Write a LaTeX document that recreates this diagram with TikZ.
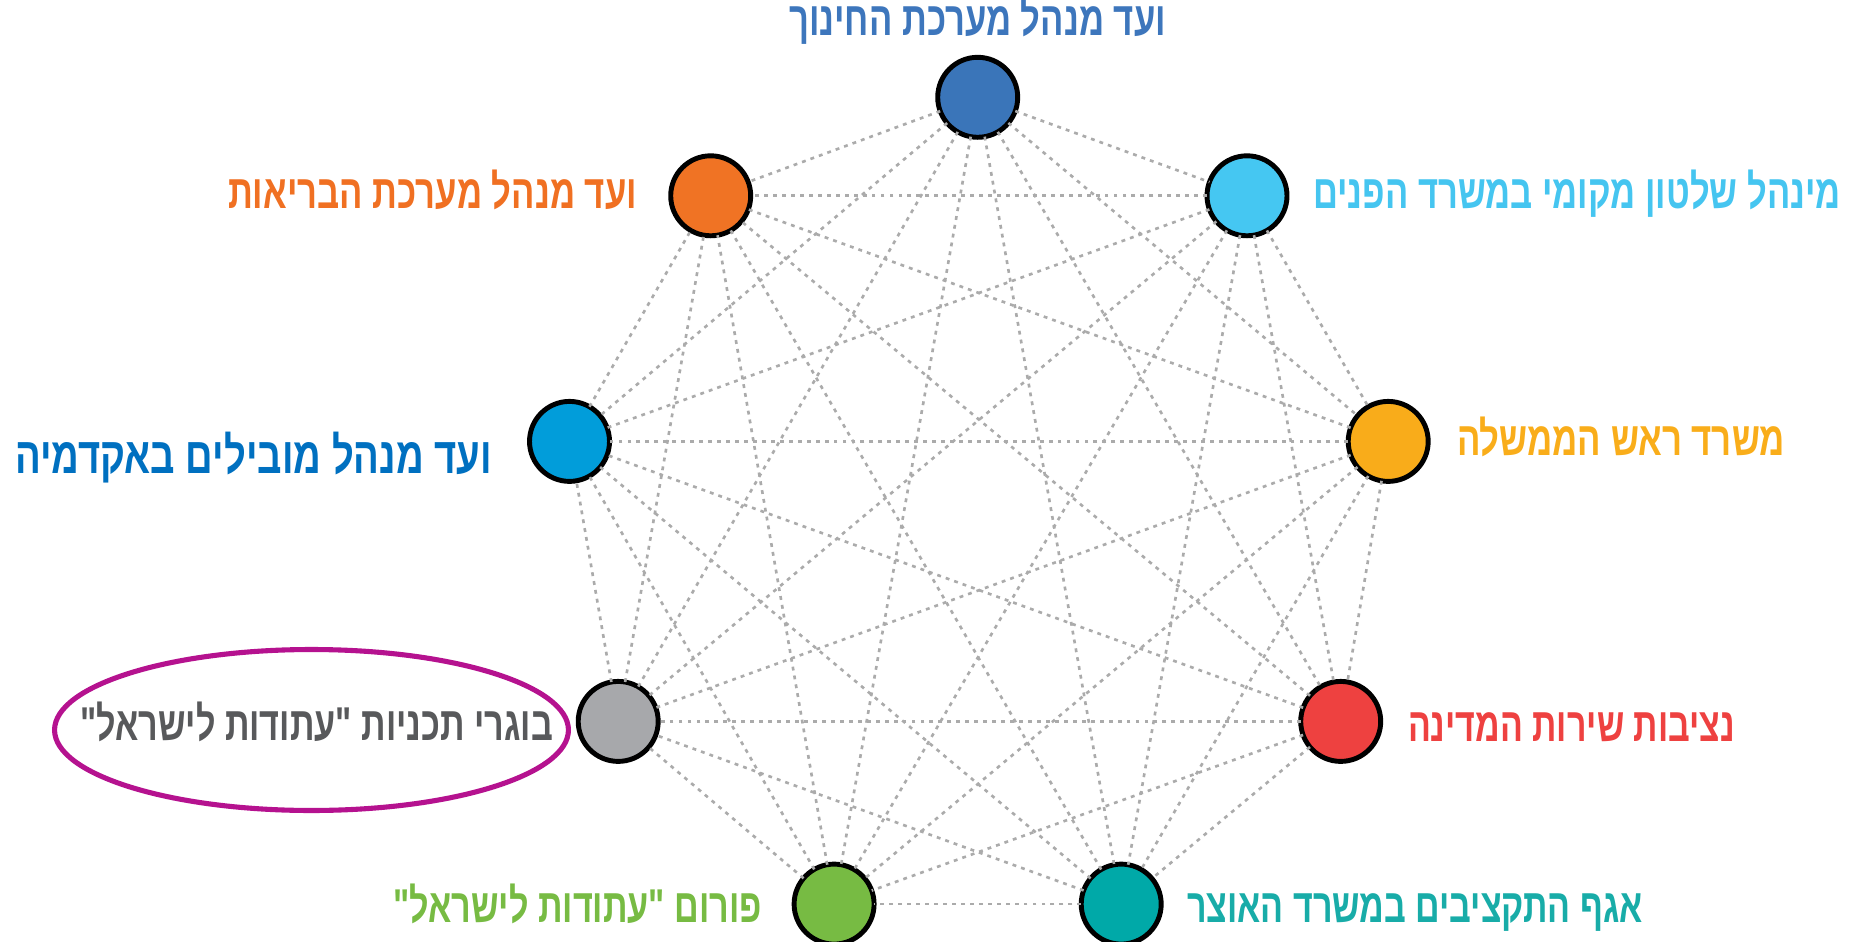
\documentclass[tikz,border=0pt]{standalone}
\usepackage{fontspec}
\TeXXeTstate=1
\newfontfamily\hebfont[Script=Hebrew]{Liberation Sans}
\usetikzlibrary{shapes.geometric}
\definecolor{cedu}{HTML}{3A75B9}
\definecolor{tedu}{HTML}{3D76BC}
\definecolor{chealth}{HTML}{F07324}
\definecolor{thealth}{HTML}{F07022}
\definecolor{cinterior}{HTML}{45C7F2}
\definecolor{tinterior}{HTML}{45C5F0}
\definecolor{cacad}{HTML}{019DDA}
\definecolor{tacad}{HTML}{0070C0}
\definecolor{cpm}{HTML}{F9AC1A}
\definecolor{tpm}{HTML}{F9AD1A}
\definecolor{cgrads}{HTML}{A7A8AB}
\definecolor{tgrads}{HTML}{58595B}
\definecolor{ccivil}{HTML}{EE4140}
\definecolor{tcivil}{HTML}{EE4140}
\definecolor{cforum}{HTML}{77BB43}
\definecolor{tforum}{HTML}{77BB43}
\definecolor{ctreas}{HTML}{00A9A8}
\definecolor{ttreas}{HTML}{18ACA8}
\definecolor{cmag}{HTML}{B5128F}
\definecolor{cedge}{HTML}{ABABAB}
\newsavebox\labbox
\newdimen\labw
\newcommand\fitlab[3]{%
  \sbox\labbox{#2#3}%
  \labw=\wd\labbox
  \pgfmathsetmacro\labsx{#1*0.569055/\labw}%
  \scalebox{\labsx}[1]{\usebox\labbox}}
\newcommand\labbf{\hebfont\bfseries\fontsize{27}{27}\selectfont}
\newcommand\labbig{\hebfont\bfseries\fontsize{29}{29}\selectfont}
\newcommand\labrg{\hebfont\bfseries\fontsize{27}{27}\selectfont}
\begin{document}
\begin{tikzpicture}[x=0.02cm,y=-0.02cm,
  dot/.style={circle,draw=black,line width=2.8pt,minimum size=1.6cm,inner sep=0pt,outer sep=0pt},
  lab/.style={inner sep=0pt,outer sep=0pt},
  edge/.style={draw=cedge,line width=1.5pt,dash pattern=on 2.2pt off 2.9pt}]
\useasboundingbox (0,0) rectangle (1851,942);
% nodes
\node[dot,fill=cedu] (edu) at (977.7,97.3) {};
\node[dot,fill=chealth] (health) at (710.7,195.8) {};
\node[dot,fill=cinterior] (interior) at (1247,195.8) {};
\node[dot,fill=cacad] (acad) at (569.5,441.4) {};
\node[dot,fill=cpm] (pm) at (1388.2,441.4) {};
\node[dot,fill=cgrads] (grads) at (618.2,721.4) {};
\node[dot,fill=ccivil] (civil) at (1340.7,721.4) {};
\node[dot,fill=cforum] (forum) at (834.1,904.1) {};
\node[dot,fill=ctreas] (treas) at (1121.2,904.1) {};
% edges (complete graph)
\foreach \a [count=\i] in {edu,interior,pm,civil,treas,forum,grads,acad,health}{
  \foreach \b [count=\j] in {edu,interior,pm,civil,treas,forum,grads,acad,health}{
    \ifnum\j>\i \draw[edge] (\a) -- (\b); \fi
  }
}
% labels
\node[lab,anchor=base,text=tedu] (ledu) at (977.5,36) {\fitlab{377}{\labbf}{\beginR ועד מנהל מערכת החינוך\endR}};
\node[lab,anchor=base east,text=thealth] (lhealth) at (637,209) {\fitlab{409}{\labbf}{\beginR ועד מנהל מערכת הבריאות\endR}};
\node[lab,anchor=base west,text=tinterior] (linterior) at (1313,209) {\fitlab{528}{\labbf}{\beginR מינהל שלטון מקומי במשרד הפנים\endR}};
\node[lab,anchor=base east,text=tacad] (lacad) at (492,473) {\fitlab{477}{\labbig}{\beginR ועד מנהל מובילים באקדמיה\endR}};
\node[lab,anchor=base west,text=tpm] (lpm) at (1457,455) {\fitlab{328}{\labbf}{\beginR משרד ראש הממשלה\endR}};
\node[lab,anchor=base east,text=tgrads] (lgrads) at (553,740) {\fitlab{473}{\labrg}{\beginR בוגרי תכניות "עתודות לישראל"\endR}};
\node[lab,anchor=base west,text=tcivil] (lcivil) at (1408,741) {\fitlab{327}{\labbf}{\beginR נציבות שירות המדינה\endR}};
\node[lab,anchor=base east,text=tforum] (lforum) at (762,922) {\fitlab{369}{\labbf}{\beginR פורום "עתודות לישראל"\endR}};
\node[lab,anchor=base west,text=ttreas] (ltreas) at (1187,922) {\fitlab{456}{\labbf}{\beginR אגף התקציבים במשרד האוצר\endR}};
% highlight ring
\node[draw=cmag,line width=2.9pt,ellipse,inner sep=0pt,minimum width=10.28cm,minimum height=3.22cm] (ring) at (311.5,730) {};
\end{tikzpicture}
\end{document}
